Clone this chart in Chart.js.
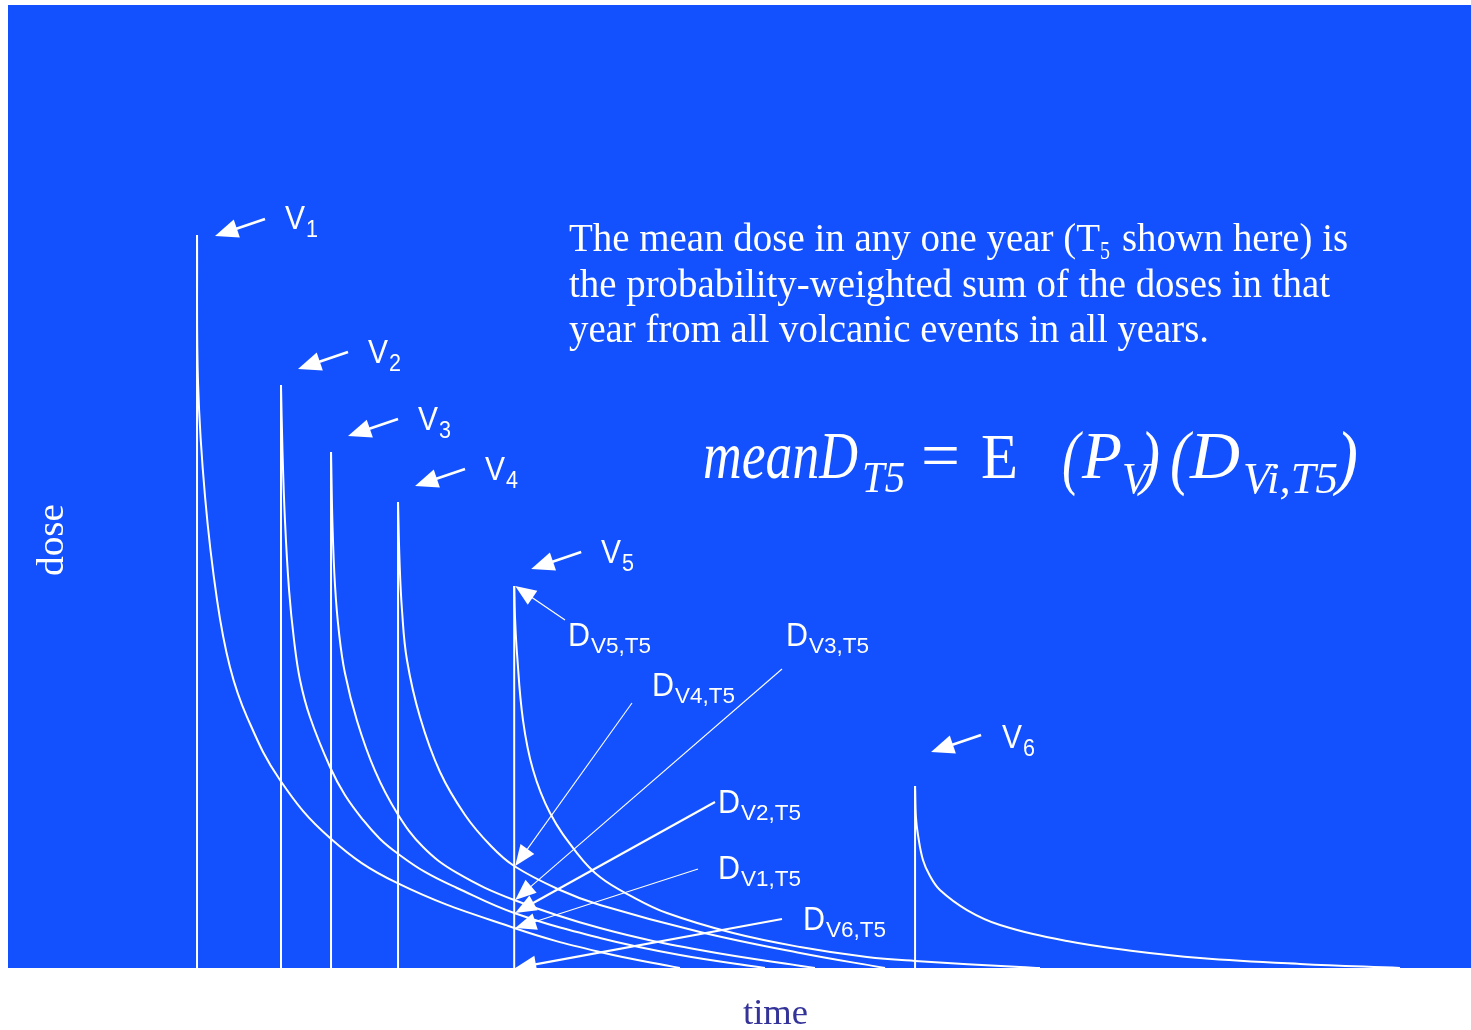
<!DOCTYPE html>
<html>
<head>
<meta charset="utf-8">
<script src="https://cdn.jsdelivr.net/npm/chart.js@4.4.1/dist/chart.umd.min.js"></script>
<style>
html,body{margin:0;padding:0;background:#fff;}
#wrap{position:relative;width:1471px;height:1030px;overflow:hidden;}
#c{position:absolute;left:0;top:0;}
#ov{position:absolute;left:0;top:0;pointer-events:none;}
</style>
</head>
<body>
<div id="wrap">
<canvas id="c" width="1471" height="1030"></canvas>
<svg id="ov" width="1471" height="1030" xmlns="http://www.w3.org/2000/svg"></svg>
</div>
<script>
// ---------------- data (time and dose in arbitrary units, 0-100) ----------------
const T5 = 34.6;
const eventNames = ['V1', 'V2', 'V3', 'V4', 'V5', 'V6'];
const eventTimes = [12.92, 18.66, 22.08, 26.66, 34.6, 62.00];
const peakDoses  = [76.12, 60.54, 53.58, 48.39, 39.67, 18.90];

const v1Time = [12.92, 12.99, 13.47, 14.29, 15.17, 16.34, 18.59, 22.01, 26.59, 34.6, 40.46, 45.93];
const v1Dose = [76.12, 60.75, 48.91, 38.21, 31.26, 26.06, 19.52, 13.50, 8.83, 4.15, 1.66, 0];

const v2Time = [18.66, 18.76, 18.93, 19.21, 19.55, 19.96, 20.64, 22.01, 23.03, 24.27, 25.43, 26.59, 28.50, 30.69, 34.6, 40.46, 45.93, 51.74];
const v2Dose = [60.54, 53.79, 46.52, 39.25, 34.06, 29.91, 26.06, 20.87, 17.96, 15.37, 13.40, 11.94, 9.97, 8.31, 5.71, 3.12, 1.35, 0];

const v3Time = [22.08, 22.18, 22.35, 22.62, 23.03, 23.86, 25.09, 26.59, 28.37, 30.69, 34.6, 40.46, 47.30, 55.16];
const v3Dose = [53.58, 46.00, 39.77, 34.89, 30.63, 25.65, 20.46, 16.10, 12.56, 9.87, 7.06, 4.15, 1.87, 0];

const v4Time = [26.66, 26.76, 26.93, 27.27, 28.16, 29.53, 31.24, 32.95, 34.6, 37.73, 40.46, 47.30, 54.14, 59.95];
const v4Dose = [48.39, 42.37, 37.18, 31.98, 26.06, 20.35, 15.89, 12.77, 10.59, 8.10, 6.54, 3.74, 1.56, 0];

const v5Time = [34.6, 34.65, 34.79, 35.20, 35.89, 37.05, 38.89, 40.46, 42.72, 45.04, 49.56, 54.14, 58.71, 62.00, 69.17, 70.54];
const v5Dose = [39.67, 36.66, 32.71, 25.75, 20.56, 16.10, 11.94, 9.45, 7.37, 5.71, 3.63, 2.18, 1.14, 0.73, 0.10, 0];

const v6Time = [62.00, 62.06, 62.20, 62.54, 63.02, 63.70, 65.55, 67.81, 72.39, 76.90, 81.48, 88.31, 95.15];
const v6Dose = [18.90, 15.68, 13.81, 11.21, 9.55, 8.10, 6.02, 4.47, 2.80, 1.77, 1.04, 0.42, 0];

const curveTimes = [v1Time, v2Time, v3Time, v4Time, v5Time, v6Time];
const curveDoses = [v1Dose, v2Dose, v3Dose, v4Dose, v5Dose, v6Dose];

// ---------------- annotation layout (pixels) ----------------
const vArrowTipOffsets = [[18, 1], [17, -16], [17, -16], [17, -16], [17, -17], [16, -34]];
const dArrowTails  = [[698, 869], [715, 802], [782, 669], [632, 703], [565, 620], [782, 919]];
const dArrowWidths = [1.1, 2.2, 1.1, 1.1, 1.3, 2.2];

const BLUE = '#1350FE';
const WHITE = '#ffffff';

function doseAtT5(i) {
  const idx = curveTimes[i].indexOf(T5);
  return idx >= 0 ? curveDoses[i][idx] : 0;
}

function drawArrow(ctx, fx, fy, tx, ty, lw, L, W) {
  const dx = tx - fx, dy = ty - fy;
  const len = Math.hypot(dx, dy);
  const ux = dx / len, uy = dy / len;
  const bx = tx - ux * L, by = ty - uy * L;
  ctx.lineWidth = lw;
  ctx.beginPath();
  ctx.moveTo(fx, fy);
  ctx.lineTo(bx + ux * 2, by + uy * 2);
  ctx.stroke();
  ctx.beginPath();
  ctx.moveTo(tx, ty);
  ctx.lineTo(bx - uy * W, by + ux * W);
  ctx.lineTo(bx + uy * W, by - ux * W);
  ctx.closePath();
  ctx.fill();
}

const bgPlugin = {
  id: 'bg',
  beforeDraw(chart) {
    const {ctx, chartArea: a} = chart;
    ctx.save();
    ctx.fillStyle = BLUE;
    ctx.fillRect(a.left, a.top, a.right - a.left, a.bottom - a.top);
    ctx.restore();
  }
};

const arrowPlugin = {
  id: 'arrows',
  afterDatasetsDraw(chart) {
    const {ctx} = chart;
    const xs = chart.scales.x, ys = chart.scales.y;
    ctx.save();
    ctx.fillStyle = WHITE;
    ctx.strokeStyle = WHITE;
    ctx.lineCap = 'butt';
    eventTimes.forEach((t, i) => {
      const px = xs.getPixelForValue(t);
      const py = ys.getPixelForValue(peakDoses[i]);
      const tx = px + vArrowTipOffsets[i][0], ty = py + vArrowTipOffsets[i][1];
      drawArrow(ctx, tx + 50, ty - 17, tx, ty, 2.8, 23, 9.5);
    });
    const t5px = xs.getPixelForValue(T5);
    eventTimes.forEach((t, i) => {
      const tx = t5px + 1;
      const ty = ys.getPixelForValue(doseAtT5(i));
      drawArrow(ctx, dArrowTails[i][0], dArrowTails[i][1], tx, ty, dArrowWidths[i], 21, 8.5);
    });
    ctx.restore();
  }
};

const datasets = [];
eventTimes.forEach((t, i) => {
  datasets.push({
    label: eventNames[i] + ' event',
    data: [{x: t, y: 0}, {x: t, y: peakDoses[i]}],
    borderColor: WHITE, borderWidth: 2, pointRadius: 0, tension: 0, clip: 0
  });
});
curveTimes.forEach((ts, i) => {
  datasets.push({
    label: eventNames[i] + ' dose',
    data: ts.map((t, j) => ({x: t, y: curveDoses[i][j]})),
    borderColor: WHITE, borderWidth: 2, pointRadius: 0,
    tension: 0.4, clip: 0
  });
});

new Chart(document.getElementById('c'), {
  type: 'line',
  data: {datasets},
  options: {
    responsive: false,
    animation: false,
    events: [],
    layout: {padding: {left: 8, top: 5, right: 0, bottom: 62}},
    plugins: {legend: {display: false}, tooltip: {enabled: false}},
    scales: {
      x: {type: 'linear', min: 0, max: 100, display: false},
      y: {type: 'linear', min: 0, max: 100, display: false}
    }
  },
  plugins: [bgPlugin, arrowPlugin]
});

// ---------------- text overlay ----------------
const svg = document.getElementById('ov');
const NS = 'http://www.w3.org/2000/svg';
const SERIF = "'Liberation Serif', 'Times New Roman', serif";
const SANS = "'Liberation Sans', Arial, sans-serif";
function addText(str, x, y, size, w, o) {
  o = o || {};
  const t = document.createElementNS(NS, 'text');
  t.setAttribute('x', x);
  t.setAttribute('y', y);
  t.setAttribute('font-family', o.family || SANS);
  t.setAttribute('font-size', size);
  t.setAttribute('fill', o.color || WHITE);
  if (o.italic) t.setAttribute('font-style', 'italic');
  if (o.anchor) t.setAttribute('text-anchor', o.anchor);
  if (o.rotate) t.setAttribute('transform', 'rotate(' + o.rotate + ' ' + x + ' ' + y + ')');
  if (w) { t.setAttribute('textLength', w); t.setAttribute('lengthAdjust', 'spacingAndGlyphs'); }
  t.textContent = str;
  svg.appendChild(t);
}

// paragraph
const S = {family: SERIF};
addText('The mean dose in any one year (T', 569, 251, 40, 531, S);
addText('5', 1100, 259, 26, 10, S);
addText('shown here) is', 1122, 251, 40, 226, S);
addText('the probability-weighted sum of the doses in that', 569, 297, 40, 761, S);
addText('year from all volcanic events in all years.', 569, 342, 40, 640, S);

// formula
const SI = {family: SERIF, italic: true};
addText('meanD', 703, 478, 68, 155, SI);
addText('T5', 862, 492, 44, 43, SI);
addText('=', 921, 478, 68, 39, S);
addText('E', 981, 478, 64, 37, S);
addText('(', 1062, 481, 72, 18, SI);
addText('P', 1082, 478, 68, 40, SI);
addText('V', 1122, 493, 44, 26, SI);
addText(')', 1140, 481, 72, 20, SI);
addText('(', 1170, 481, 72, 20, SI);
addText('D', 1190, 478, 68, 50, SI);
addText('Vi,T5', 1243, 493, 44, 95, SI);
addText(')', 1336, 481, 72, 22, SI);

// event labels V1..V6
const vLabelPos = [[285, 229], [368, 363], [418, 430], [485, 480], [601, 563], [1002, 748]];
vLabelPos.forEach((p, i) => {
  addText('V', p[0], p[1], 34, 20);
  addText(String(i + 1), p[0] + 21, p[1] + 8, 23, 12);
});

// dose labels D_Vi,T5
const dLabels = [['V5,T5', 568, 646], ['V4,T5', 652, 696], ['V3,T5', 786, 646],
                 ['V2,T5', 718, 813], ['V1,T5', 718, 879], ['V6,T5', 803, 930]];
dLabels.forEach(d => {
  addText('D', d[1], d[2], 34, 22);
  addText(d[0], d[1] + 23, d[2] + 7, 22, 60);
});

// axis titles
addText('dose', 63, 540, 38, 72, {family: SERIF, anchor: 'middle', rotate: -90});
addText('time', 743, 1024, 36, 65, {family: SERIF, color: '#333399'});
</script>
</body>
</html>
